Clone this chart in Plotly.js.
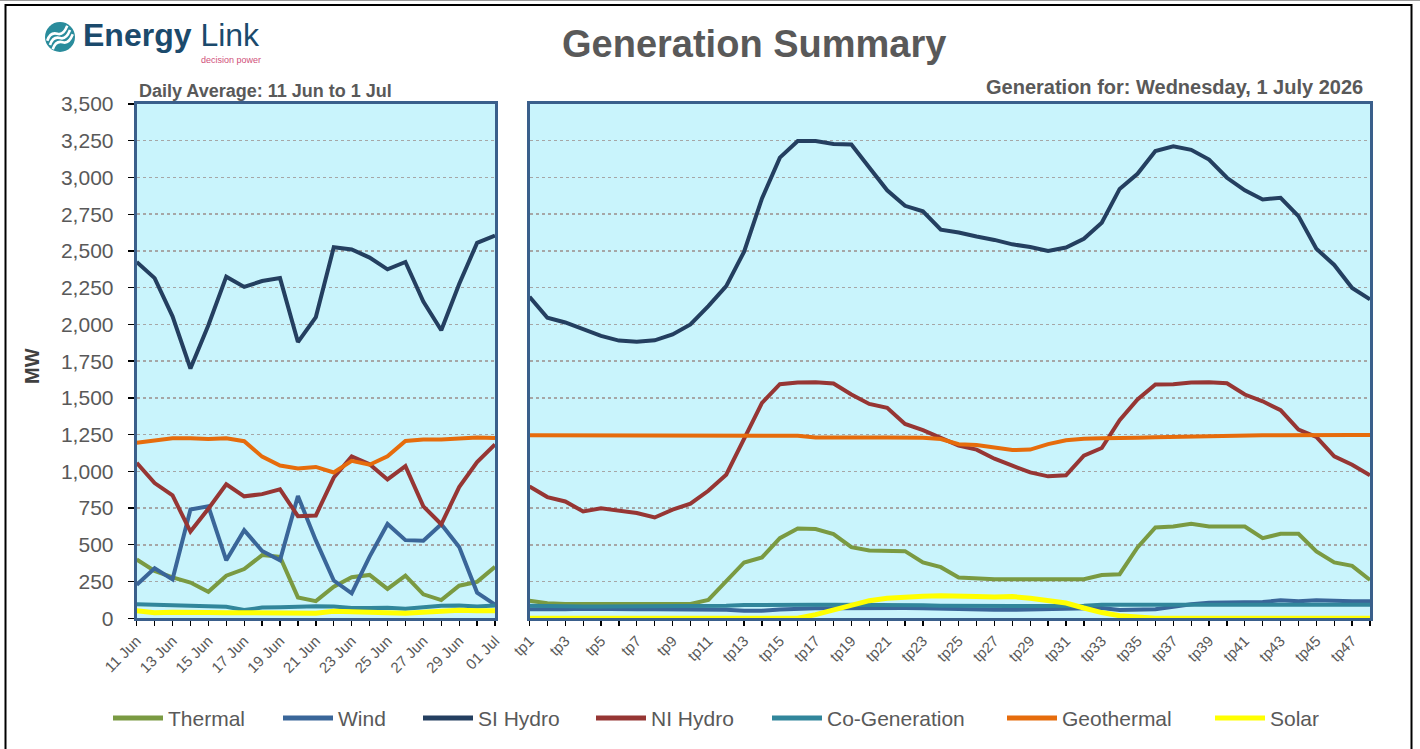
<!DOCTYPE html>
<html><head><meta charset="utf-8">
<script src="https://cdn.plot.ly/plotly-3.0.1.min.js"></script>
<style>html,body{margin:0;padding:0;background:#fff;} #chart{width:1420px;height:749px;}</style>
</head><body><div id="chart"></div>
<script>
// ---------- categories ----------
const days = ['11 Jun','12 Jun','13 Jun','14 Jun','15 Jun','16 Jun','17 Jun','18 Jun','19 Jun','20 Jun','21 Jun',
  '22 Jun','23 Jun','24 Jun','25 Jun','26 Jun','27 Jun','28 Jun','29 Jun','30 Jun','01 Jul'];
const periods = ['tp1','tp2','tp3','tp4','tp5','tp6','tp7','tp8','tp9','tp10','tp11','tp12','tp13','tp14','tp15','tp16',
  'tp17','tp18','tp19','tp20','tp21','tp22','tp23','tp24','tp25','tp26','tp27','tp28','tp29','tp30','tp31','tp32',
  'tp33','tp34','tp35','tp36','tp37','tp38','tp39','tp40','tp41','tp42','tp43','tp44','tp45','tp46','tp47','tp48'];
const yTickValues = [0,250,500,750,1000,1250,1500,1750,2000,2250,2500,2750,3000,3250,3500];

// ---------- series ----------
const seriesNames = ['Thermal','Wind','SI Hydro','NI Hydro','Co-Generation','Geothermal','Solar'];
const seriesColors = ['#7A9A42','#3A6699','#243F60','#963634','#31869B','#E66C0C','#FFFF00'];

// daily averages (MW)
const dailyThermal = [400,322,278,243,180,290,335,430,418,142,117,215,280,295,200,290,163,124,222,248,350];
const dailyWind    = [228,340,265,740,762,395,600,458,395,832,530,257,170,420,642,532,528,640,486,175,93];
const dailySIHydro = [2425,2315,2055,1700,1995,2325,2255,2295,2315,1880,2050,2525,2510,2455,2375,2425,2155,1960,2275,2555,2605];
const dailyNIHydro = [1058,920,836,590,746,912,830,845,878,695,700,958,1102,1048,945,1035,762,640,893,1063,1183];
const dailyCoGen   = [96,93,87,87,80,78,56,73,76,80,82,81,70,70,72,65,76,85,87,80,87];
const dailyGeo     = [1195,1210,1225,1225,1220,1225,1205,1100,1040,1020,1030,992,1072,1045,1102,1207,1217,1217,1225,1230,1227];
const dailySolar   = [52,38,42,45,40,38,38,42,43,42,35,48,42,35,37,35,42,50,55,52,52];

// trading periods for 1 July (MW)
const tpThermal = [120,102,98,98,98,98,98,98,98,98,125,250,380,414,545,611,607,573,484,461,459,457,380,348,
  277,270,266,266,266,266,266,266,295,300,482,618,625,643,625,625,625,545,575,575,455,380,357,261];
const tpWind = [62,60,62,65,62,60,62,62,62,60,64,58,52,52,60,66,68,68,70,72,72,70,68,64,
  62,60,58,58,60,60,60,66,70,56,58,62,78,95,105,105,108,111,122,116,122,116,116,116];
const tpSIHydro = [2188,2045,2013,1968,1922,1890,1882,1892,1932,2000,2125,2260,2495,2857,3135,3248,3248,3228,3225,3068,2913,2807,2770,2645,
  2625,2598,2575,2545,2527,2500,2523,2583,2692,2922,3025,3180,3212,3188,3122,2998,2912,2850,2862,2737,2515,2405,2248,2170];
const tpNIHydro = [898,825,795,727,748,734,716,686,739,780,868,977,1216,1466,1593,1605,1607,1598,1523,1459,1432,1323,1280,1227,
  1175,1148,1086,1039,993,966,973,1107,1159,1348,1489,1591,1593,1605,1607,1600,1523,1477,1416,1284,1234,1102,1045,973];
const tpCoGen = [85,82,80,80,80,80,80,80,80,80,82,85,90,92,93,93,93,92,92,92,93,92,88,86,
  84,84,84,84,84,84,84,86,92,93,93,93,93,93,93,93,93,93,93,93,93,93,93,93];
const tpGeo = [1245,1245,1245,1244,1243,1245,1245,1245,1245,1245,1245,1245,1245,1244,1243,1242,1230,1228,1230,1230,1230,1230,1228,1220,
  1185,1180,1160,1145,1148,1185,1212,1222,1225,1225,1228,1232,1235,1237,1240,1240,1243,1245,1245,1247,1248,1248,1248,1248];
const tpSolar = [0,0,0,0,0,0,0,0,0,0,0,0,0,0,0,0,25,55,90,120,136,145,150,154,
  154,148,145,148,136,122,104,70,39,18,6,0,0,0,0,0,0,0,0,0,0,0,0,0];

const dailySeries = [dailyThermal,dailyWind,dailySIHydro,dailyNIHydro,dailyCoGen,dailyGeo,dailySolar];
const tpSeries = [tpThermal,tpWind,tpSIHydro,tpNIHydro,tpCoGen,tpGeo,tpSolar];

// ---------- layout helpers ----------
const W = 1420, H = 749;
const fx = x => x / W;
const fy = y => 1 - y / H;
const P = (x, y) => fx(x) + ',' + fy(y);

const frameColor = '#3A5F8B';
const gridStyle = {showgrid:true, gridcolor:'#A6A6A6', gridwidth:1.5, griddash:'dot'};
const textGrey = '#595959';
const fontFam = '"Liberation Sans", Arial, sans-serif';

const traces = [];
seriesNames.forEach((name, i) => {
  const w = name === 'Solar' ? 5 : 4;
  traces.push({type:'scatter', mode:'lines', name:name, x:days, y:dailySeries[i], xaxis:'x', yaxis:'y',
    line:{color:seriesColors[i], width:w}, showlegend:false, hoverinfo:'skip'});
  traces.push({type:'scatter', mode:'lines', name:name, x:periods, y:tpSeries[i], xaxis:'x2', yaxis:'y2',
    line:{color:seriesColors[i], width:w}, showlegend:false, hoverinfo:'skip'});
});

const yDomain = [fy(618.3), fy(104)];
const leftDomain = [fx(136.7), fx(495)];
const rightDomain = [fx(529.5), fx(1370)];

const shapes = [];
const annotations = [];

// outer frame
shapes.push({type:'line', xref:'paper', yref:'paper', x0:0, x1:1, y0:fy(0.5), y1:fy(0.5), line:{color:'#9a9a9a', width:1}});
shapes.push({type:'rect', xref:'paper', yref:'paper', x0:fx(5.5), x1:fx(1411.5), y0:fy(5), y1:fy(760), line:{color:'#000', width:2}, layer:'below'});

// logo
shapes.push({type:'circle', xref:'paper', yref:'paper', x0:fx(45), x1:fx(75), y0:fy(52), y1:fy(22), fillcolor:'#2A8C9C', line:{width:0}});
[-5, 0, 5].forEach(d => {
  const ox = d * 0.55, oy = d * 0.85;
  shapes.push({type:'path', xref:'paper', yref:'paper',
    path:`M${P(50+ox,45+oy)} Q${P(53+ox,36+oy)} ${P(60+ox,38+oy)} Q${P(66+ox,40+oy)} ${P(70+ox,30+oy)}`,
    line:{color:'#ffffff', width:2.6}});
});
annotations.push({xref:'paper', yref:'paper', x:fx(81), y:fy(35), xanchor:'left', yanchor:'middle', showarrow:false,
  text:'<b>Energy</b> Link', font:{family:fontFam, size:32, color:'#1B4A6C'}});
annotations.push({xref:'paper', yref:'paper', x:fx(263), y:fy(60), xanchor:'right', yanchor:'middle', showarrow:false,
  text:'decision power', font:{family:fontFam, size:9, color:'#D0507A'}});

// titles
annotations.push({xref:'paper', yref:'paper', x:fx(754), y:fy(44), xanchor:'center', yanchor:'middle', showarrow:false,
  text:'<b>Generation Summary</b>', font:{family:fontFam, size:38, color:textGrey}});
annotations.push({xref:'paper', yref:'paper', x:fx(137), y:fy(91), xanchor:'left', yanchor:'middle', showarrow:false,
  text:'<b>Daily Average: 11 Jun to 1 Jul</b>', font:{family:fontFam, size:18, color:textGrey}});
annotations.push({xref:'paper', yref:'paper', x:fx(1365), y:fy(87), xanchor:'right', yanchor:'middle', showarrow:false,
  text:'<b>Generation for: Wednesday, 1 July 2026</b>', font:{family:fontFam, size:20, color:textGrey}});
annotations.push({xref:'paper', yref:'paper', x:fx(32), y:fy(366), xanchor:'center', yanchor:'middle', showarrow:false,
  textangle:-90, text:'<b>MW</b>', font:{family:fontFam, size:20, color:'#404040'}});

// legend (built from series names / colours)
const legendStart = [113, 283, 423, 596, 772, 1007, 1215];
seriesNames.forEach((name, i) => {
  const lx = legendStart[i];
  shapes.push({type:'line', xref:'paper', yref:'paper', x0:fx(lx), x1:fx(lx+50), y0:fy(718), y1:fy(718),
    line:{color:seriesColors[i], width:5}});
  annotations.push({xref:'paper', yref:'paper', x:fx(lx+53), y:fy(718), xanchor:'left', yanchor:'middle', showarrow:false,
    text:name, font:{family:fontFam, size:21, color:textGrey}});
});

const layout = {
  width:W, height:H, autosize:false,
  margin:{l:0, r:0, t:0, b:0},
  paper_bgcolor:'#ffffff', plot_bgcolor:'#C9F4FC',
  font:{family:fontFam, color:textGrey},
  showlegend:false,
  xaxis:{domain:leftDomain, anchor:'y', type:'category', range:[0, days.length-1],
    tickmode:'array', tickvals:days, ticktext:days.map((d,i)=> i%2===0 ? d : ''),
    tickangle:-45, tickfont:{size:15, color:textGrey}, ticks:'outside', ticklen:5, tickwidth:1.3, tickcolor:'#000',
    showgrid:false, zeroline:false, showline:true, mirror:true, linecolor:frameColor, linewidth:3},
  xaxis3:Object.assign({overlaying:'x', anchor:'y', type:'linear', range:[0, days.length-1], tick0:0, dtick:2,
    showticklabels:false, ticks:'', showline:false, zeroline:false}, gridStyle),
  yaxis:Object.assign({domain:yDomain, anchor:'x', range:[0,3500], tickmode:'array', tickvals:yTickValues,
    tickformat:',d', tickfont:{size:21, color:textGrey}, ticks:'outside', ticklen:6, tickwidth:1.3, tickcolor:'#000',
    ticklabelstandoff:10, zeroline:false, showline:true, mirror:true, linecolor:frameColor, linewidth:3}, gridStyle),
  xaxis2:{domain:rightDomain, anchor:'y2', type:'category', range:[0, periods.length-1],
    tickmode:'array', tickvals:periods, ticktext:periods.map((p,i)=> i%2===0 ? p : ''),
    tickangle:-45, tickfont:{size:15, color:textGrey}, ticks:'outside', ticklen:5, tickwidth:1.3, tickcolor:'#000',
    showgrid:false, zeroline:false, showline:true, mirror:true, linecolor:frameColor, linewidth:3},
  xaxis4:Object.assign({overlaying:'x2', anchor:'y2', type:'linear', range:[0, periods.length-1], tick0:7, dtick:8,
    showticklabels:false, ticks:'', showline:false, zeroline:false}, gridStyle),
  yaxis2:Object.assign({domain:yDomain, anchor:'x2', range:[0,3500], tickmode:'array', tickvals:yTickValues,
    showticklabels:false, ticks:'', zeroline:false, showline:true, mirror:true, linecolor:frameColor, linewidth:3}, gridStyle),
  shapes:shapes,
  annotations:annotations
};

Plotly.newPlot('chart', traces, layout, {displayModeBar:false, staticPlot:true});
</script>
</body></html>
